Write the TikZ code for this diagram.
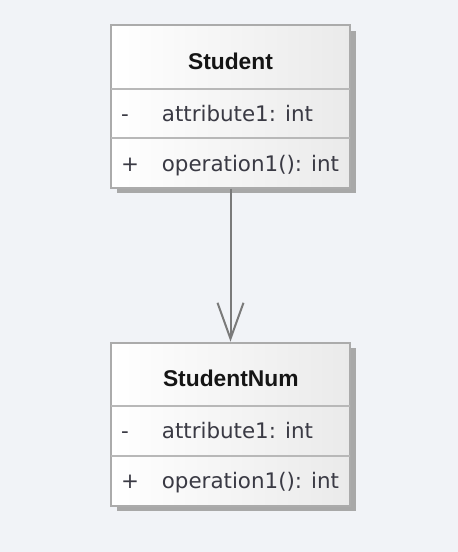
\documentclass[tikz,border=0pt]{standalone}
\usepackage{fontspec}
\setmainfont{DejaVu Sans}
\newfontfamily\titlefont{Liberation Sans}
\usetikzlibrary{arrows.meta,calc}
\definecolor{bg}{HTML}{F1F3F7}
\definecolor{shadowc}{HTML}{A8A8A8}
\definecolor{boxborder}{HTML}{ABABAB}
\definecolor{boxright}{HTML}{EAEAEA}
\definecolor{divc}{HTML}{B8B8B8}
\definecolor{txt}{HTML}{3A3A44}
\definecolor{ttl}{HTML}{151515}
\definecolor{arrowc}{HTML}{7A7A7A}
\begin{document}
\begin{tikzpicture}[x=1pt,y=-1pt,
  umlbox/.style={draw=boxborder, line width=2pt, left color=white, right color=boxright,
    minimum width=239pt, inner sep=0pt, rectangle},
  divider/.style={draw=divc, line width=1.6pt},
  titletext/.style={anchor=base, inner sep=0pt, text=ttl, font=\titlefont\bfseries\fontsize{22.8}{26}\selectfont},
  membertext/.style={anchor=base west, inner sep=0pt, text=txt, font=\fontsize{21.4}{25}\selectfont},
  vistext/.style={anchor=base, inner sep=0pt, text=txt, font=\fontsize{21.4}{25}\selectfont},
  assoc/.style={draw=arrowc, line width=2pt, -{Straight Barb[length=36pt, width=26pt, line width=2pt]}}
]
\useasboundingbox (0,0) rectangle (458,552);
\fill[bg] (0,0) rectangle (458,552);
% drop shadows
\fill[shadowc] (116.5,30.5) rectangle (356,193.2);
\fill[shadowc] (116.5,348.2) rectangle (356,511.2);
% class boxes
\node[umlbox, minimum height=162.7pt] (s) at (230.5,106.35) {};
\node[umlbox, minimum height=163pt] (n) at (230.5,424.2) {};
% compartments
\draw[divider] ($(s.north west)+(1,65)$) -- ($(s.north east)+(-1,65)$);
\draw[divider] ($(s.north west)+(1,114)$) -- ($(s.north east)+(-1,114)$);
\draw[divider] ($(n.north west)+(1,64)$) -- ($(n.north east)+(-1,64)$);
\draw[divider] ($(n.north west)+(1,114)$) -- ($(n.north east)+(-1,114)$);
% texts of Student
\node[titletext] (stitle) at (230.5,69) {Student};
\node[vistext] (svis1) at (125,121.7) {-};
\node[membertext] (sattr) at (161.7,121.7) {attribute1: int};
\node[vistext] (svis2) at (130,171.7) {+};
\node[membertext] (sop) at (161.7,171.7) {operation1(): int};
% texts of StudentNum
\node[titletext] (ntitle) at (230.8,386.7) {StudentNum};
\node[vistext] (nvis1) at (125,438.5) {-};
\node[membertext] (nattr) at (161.7,438.5) {attribute1: int};
\node[vistext] (nvis2) at (130,488.5) {+};
\node[membertext] (nop) at (161.7,488.5) {operation1(): int};
% association
\draw[assoc] (s.south) -- (n.north);
\end{tikzpicture}
\end{document}
